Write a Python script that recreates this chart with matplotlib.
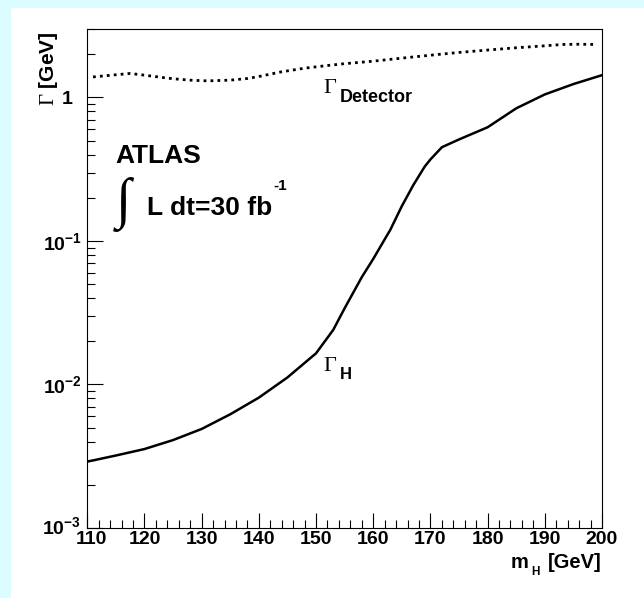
import matplotlib
matplotlib.use("Agg")
import matplotlib.pyplot as plt
import matplotlib.transforms as mtransforms
from matplotlib.patches import Rectangle
from matplotlib.ticker import FixedLocator, MultipleLocator, LogLocator, NullFormatter, FixedFormatter

plt.rcParams['mathtext.fontset'] = 'custom'
plt.rcParams['mathtext.rm'] = 'Liberation Serif'
plt.rcParams['mathtext.it'] = 'Liberation Serif:italic'
plt.rcParams['mathtext.bf'] = 'Liberation Sans:bold'
plt.rcParams['mathtext.sf'] = 'Liberation Sans'
plt.rcParams['font.family'] = ['Liberation Sans', 'DejaVu Sans']

# ---- data ----
mh_higgs = [110, 115, 120, 125, 130, 135, 140, 145, 150, 153, 155, 158, 160, 163, 165, 167, 169, 170, 172, 175, 180, 185, 190, 195, 200]
gamma_higgs = [2.9e-3, 3.2e-3, 3.55e-3, 4.1e-3, 4.9e-3, 6.2e-3, 8.1e-3, 1.12e-2, 1.65e-2, 2.4e-2, 3.4e-2, 5.6e-2, 7.5e-2, 0.12, 0.175, 0.245, 0.33, 0.37, 0.45, 0.51, 0.62, 0.84, 1.05, 1.24, 1.43]

mh_det = [111, 115, 117.5, 120, 123, 125, 128, 131, 135, 138, 140, 144, 148, 152, 155, 160, 165, 170, 175, 180, 185, 190, 193, 196, 199]
gamma_det = [1.39, 1.44, 1.47, 1.43, 1.38, 1.35, 1.32, 1.305, 1.32, 1.356, 1.40, 1.51, 1.60, 1.67, 1.72, 1.79, 1.88, 1.97, 2.06, 2.14, 2.22, 2.29, 2.34, 2.35, 2.34]

y_ticks = [1e-3, 1e-2, 1e-1, 1]
y_ticklabels = [r'$\mathbf{10^{-3}}$', r'$\mathbf{10^{-2}}$', r'$\mathbf{10^{-1}}$', '1 \u2009']
x_ticks = [110, 120, 130, 140, 150, 160, 170, 180, 190, 200]

W, H = 644, 598
cyan = '#dcfdff'

fig = plt.figure(figsize=(W / 100, H / 100), dpi=100)
fig.patch.set_facecolor(cyan)
fig.add_artist(Rectangle((11 / W, 0), 1 - 11 / W, (H - 8) / H, transform=fig.transFigure,
                         facecolor='white', edgecolor='none', zorder=-10))

x0, x1, ytop, ybot = 87.3, 602, 29, 528
ax = fig.add_axes([x0 / W, (H - ybot) / H, (x1 - x0) / W, (ybot - ytop) / H])
ax.set_facecolor('white')

ax.plot(mh_higgs, gamma_higgs, color='black', lw=1.8, solid_joinstyle='round', solid_capstyle='round')
ax.plot(mh_det, gamma_det, color='black', lw=2.0, ls=(0, (1, 1.5)), dash_capstyle='butt')

ax.set_yscale('log')
ax.set_xlim(110, 200)
ax.set_ylim(1e-3, 3.0)

ax.xaxis.set_major_locator(FixedLocator(x_ticks))
ax.xaxis.set_minor_locator(MultipleLocator(2))
ax.yaxis.set_major_locator(FixedLocator(y_ticks))
ax.yaxis.set_major_formatter(FixedFormatter(y_ticklabels))
ax.yaxis.set_minor_locator(LogLocator(base=10, subs=range(2, 10)))
ax.yaxis.set_minor_formatter(NullFormatter())

ax.tick_params(axis='x', which='major', direction='in', length=11, width=0.8, pad=2.3,
               labelsize=14, top=False)
ax.tick_params(axis='x', which='minor', direction='in', length=5.8, width=0.8, top=False)
ax.tick_params(axis='y', which='major', direction='in', length=11.5, width=0.8, pad=3.6,
               labelsize=14, right=False)
ax.tick_params(axis='y', which='minor', direction='in', length=5.8, width=0.8, right=False)
for lab in ax.get_xticklabels() + ax.get_yticklabels():
    lab.set_fontweight('bold')
for s in ax.spines.values():
    s.set_linewidth(0.8)

# ROOT-like nudges of the corner labels
first_x = ax.xaxis.get_major_ticks()[0].label1
first_x.set_transform(first_x.get_transform() + mtransforms.ScaledTranslation(4 / 100, 0, fig.dpi_scale_trans))
first_y = ax.yaxis.get_major_ticks()[0].label1
first_y.set_transform(first_y.get_transform() + mtransforms.ScaledTranslation(-1 / 100, 3 / 100, fig.dpi_scale_trans))

def fx(px):
    return (px - x0) / (x1 - x0)

def fy(py):
    return (ybot - py) / (ybot - ytop)

T = ax.transAxes
ax.text(fx(115), fy(163), 'ATLAS', transform=T, fontsize=19, fontweight='bold', va='baseline', ha='left')
ax.text(fx(123), fy(205), '\u222b', transform=T, fontsize=40, family=['Liberation Serif', 'DejaVu Sans'],
        va='center', ha='center')
ax.text(fx(147), fy(215), 'L dt=30 fb', transform=T, fontsize=19, fontweight='bold', va='baseline', ha='left')
ax.text(fx(273), fy(190), '-1', transform=T, fontsize=11, fontweight='bold', va='baseline', ha='left')

ax.text(fx(323), fy(93), '\u0393', transform=T, fontsize=16, family='Liberation Serif', va='baseline', ha='left')
ax.text(fx(340), fy(102), 'Detector', transform=T, fontsize=13, fontweight='bold', va='baseline', ha='left')

ax.text(fx(323), fy(371), '\u0393', transform=T, fontsize=16, family='Liberation Serif', va='baseline', ha='left')
ax.text(fx(340), fy(379), 'H', transform=T, fontsize=12, fontweight='bold', va='baseline', ha='left')

# axis titles
ax.text(1.0, fy(568), '[GeV]', transform=T, fontsize=14.5, fontweight='bold', va='baseline', ha='right')
ax.text(fx(529), fy(568), 'm', transform=T, fontsize=14.5, fontweight='bold', va='baseline', ha='right')
ax.text(fx(531), fy(575), 'H', transform=T, fontsize=8.5, fontweight='bold', va='baseline', ha='left')
fig.text(48 / W, 1 - 32 / H, r'$\Gamma$ [GeV]', rotation=90, ha='center', va='top',
         fontsize=15, fontweight='bold')

fig.savefig('out.png', dpi=100, facecolor=fig.get_facecolor())
